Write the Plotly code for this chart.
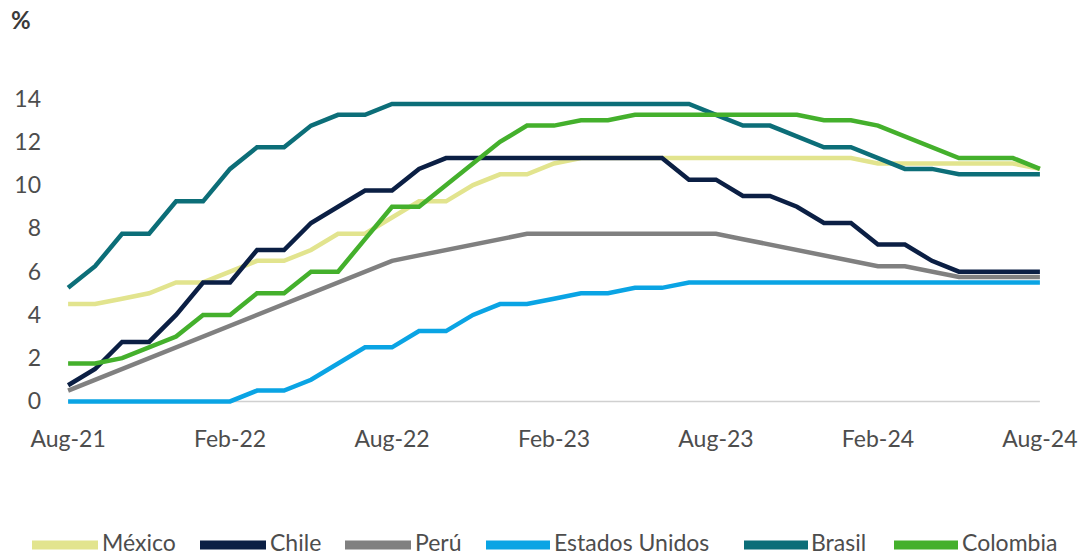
import pandas as pd
import plotly.graph_objects as go

# ---------------- data ----------------
month_dates = pd.date_range("2021-08-01", periods=37, freq="MS")
months = [d.strftime("%b-%y") for d in month_dates]
tick_labels = ["Aug-21", "Feb-22", "Aug-22", "Feb-23", "Aug-23", "Feb-24", "Aug-24"]
y_ticks = [0, 2, 4, 6, 8, 10, 12, 14]

mexico = [4.5, 4.5, 4.75, 5.0, 5.5, 5.5, 6.0, 6.5, 6.5, 7.0, 7.75, 7.75, 8.5,
          9.25, 9.25, 10.0, 10.5, 10.5, 11.0, 11.25, 11.25, 11.25, 11.25, 11.25,
          11.25, 11.25, 11.25, 11.25, 11.25, 11.25, 11.0, 11.0, 11.0, 11.0, 11.0,
          11.0, 10.75]
chile = [0.75, 1.5, 2.75, 2.75, 4.0, 5.5, 5.5, 7.0, 7.0, 8.25, 9.0, 9.75, 9.75,
         10.75, 11.25, 11.25, 11.25, 11.25, 11.25, 11.25, 11.25, 11.25, 11.25,
         10.25, 10.25, 9.5, 9.5, 9.0, 8.25, 8.25, 7.25, 7.25, 6.5, 6.0, 6.0, 6.0,
         6.0]
peru = [0.5, 1.0, 1.5, 2.0, 2.5, 3.0, 3.5, 4.0, 4.5, 5.0, 5.5, 6.0, 6.5, 6.75,
        7.0, 7.25, 7.5, 7.75, 7.75, 7.75, 7.75, 7.75, 7.75, 7.75, 7.75, 7.5, 7.25,
        7.0, 6.75, 6.5, 6.25, 6.25, 6.0, 5.75, 5.75, 5.75, 5.75]
usa = [0.0, 0.0, 0.0, 0.0, 0.0, 0.0, 0.0, 0.5, 0.5, 1.0, 1.75, 2.5, 2.5, 3.25,
       3.25, 4.0, 4.5, 4.5, 4.75, 5.0, 5.0, 5.25, 5.25, 5.5, 5.5, 5.5, 5.5, 5.5,
       5.5, 5.5, 5.5, 5.5, 5.5, 5.5, 5.5, 5.5, 5.5]
brasil = [5.25, 6.25, 7.75, 7.75, 9.25, 9.25, 10.75, 11.75, 11.75, 12.75, 13.25,
          13.25, 13.75, 13.75, 13.75, 13.75, 13.75, 13.75, 13.75, 13.75, 13.75,
          13.75, 13.75, 13.75, 13.25, 12.75, 12.75, 12.25, 11.75, 11.75, 11.25,
          10.75, 10.75, 10.5, 10.5, 10.5, 10.5]
colombia = [1.75, 1.75, 2.0, 2.5, 3.0, 4.0, 4.0, 5.0, 5.0, 6.0, 6.0, 7.5, 9.0,
            9.0, 10.0, 11.0, 12.0, 12.75, 12.75, 13.0, 13.0, 13.25, 13.25, 13.25,
            13.25, 13.25, 13.25, 13.25, 13.0, 13.0, 12.75, 12.25, 11.75, 11.25,
            11.25, 11.25, 10.75]

series_names = ["México", "Chile", "Perú", "Estados Unidos", "Brasil", "Colombia"]
series_values = [mexico, chile, peru, usa, brasil, colombia]
series_colors = ["#E2E48E", "#0B1F44", "#808080", "#0AA4E4", "#0C6E78", "#44B02C"]

# ---------------- layout geometry ----------------
W, H = 1086, 558
ML, MR, MT, MB = 60, 38, 91, 149
PW, PH = W - ML - MR, H - MT - MB
FONT = "Lato"
TXT = "#4D4D4D"


def px_x(px):
    return (px - ML) / PW


def px_y(py):
    return 1 - (py - MT) / PH


fig = go.Figure()
for name, vals, col in zip(series_names, series_values, series_colors):
    fig.add_trace(go.Scatter(x=months, y=vals, name=name, mode="lines",
                             line=dict(color=col, width=4.5),
                             showlegend=False, hoverinfo="x+y+name"))

# baseline
fig.add_shape(type="line", xref="x", yref="y", x0=months[0], x1=months[-1],
              y0=0, y1=0, line=dict(color="#D0D0D0", width=1.5), layer="below")

# custom legend (wide line swatches like the original)
legend_items = [(32, 98, 101), (200, 266, 269), (345, 411, 414),
                (486, 550, 553), (744, 808, 810), (894, 958, 961)]
LEG_Y = 545
for (s0, s1, tx), name, col in zip(legend_items, series_names, series_colors):
    fig.add_shape(type="line", xref="paper", yref="paper",
                  x0=px_x(s0), x1=px_x(s1), y0=px_y(LEG_Y), y1=px_y(LEG_Y),
                  line=dict(color=col, width=9))
    fig.add_annotation(xref="paper", yref="paper", x=px_x(tx), y=px_y(557),
                       text=name, showarrow=False, xanchor="left",
                       yanchor="bottom", borderpad=0,
                       font=dict(family=FONT, size=23, color=TXT))

# "%" unit label
fig.add_annotation(xref="paper", yref="paper", x=px_x(9), y=px_y(19),
                   text="<b>%</b>", showarrow=False, xanchor="left",
                   yanchor="middle", font=dict(family=FONT, size=24, color="#3A3A3A"))

fig.update_layout(
    width=W, height=H,
    margin=dict(l=ML, r=MR, t=MT, b=MB),
    paper_bgcolor="white", plot_bgcolor="white",
    font=dict(family=FONT, size=24, color=TXT),
    showlegend=False,
    xaxis=dict(type="category", range=[-0.3, 36.3], tickmode="array",
               tickvals=tick_labels, ticktext=tick_labels, showgrid=False,
               zeroline=False, showline=False, ticks="", automargin=False,
               ticklabelstandoff=14, tickfont=dict(family=FONT, size=23, color=TXT)),
    yaxis=dict(range=[-0.35, 14.35], tickmode="array", tickvals=y_ticks,
               showgrid=False, zeroline=False, showline=False, ticks="",
               automargin=False,
               ticklabelstandoff=18, tickfont=dict(family=FONT, size=23, color=TXT)),
)

fig.write_html("out.html", config={"displayModeBar": False},
               post_script="document.body.style.margin='0';document.body.style.padding='0';")
